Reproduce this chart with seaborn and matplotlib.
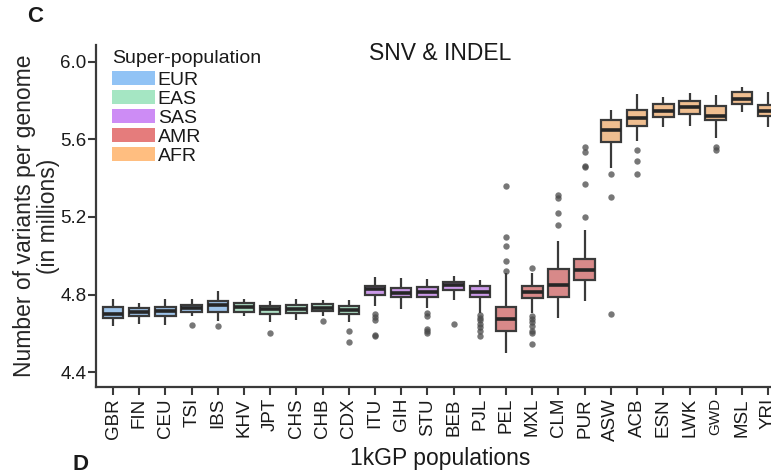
import matplotlib
matplotlib.use("Agg")
import matplotlib.pyplot as plt
from matplotlib.patches import Patch
import seaborn as sns
import pandas as pd

# ---------------- data ----------------
populations = ["GBR", "FIN", "CEU", "TSI", "IBS", "KHV", "JPT", "CHS", "CHB", "CDX",
               "ITU", "GIH", "STU", "BEB", "PJL", "PEL", "MXL", "CLM", "PUR",
               "ASW", "ACB", "ESN", "LWK", "GWD", "MSL", "YRI"]
super_pops = ["EUR"] * 5 + ["EAS"] * 5 + ["SAS"] * 5 + ["AMR"] * 4 + ["AFR"] * 7
super_order = ["EUR", "EAS", "SAS", "AMR", "AFR"]

whisker_low = [4.639, 4.649, 4.641, 4.689, 4.663, 4.689, 4.657, 4.670, 4.689, 4.658,
               4.741, 4.724, 4.732, 4.772, 4.703, 4.500, 4.706, 4.677, 4.768,
               5.451, 5.589, 5.666, 5.671, 5.606, 5.743, 5.663]
quart_1 = [4.682, 4.691, 4.691, 4.711, 4.711, 4.711, 4.701, 4.706, 4.713, 4.699,
           4.799, 4.787, 4.787, 4.823, 4.786, 4.613, 4.782, 4.789, 4.875,
           5.587, 5.671, 5.713, 5.733, 5.701, 5.782, 5.720]
median = [4.701, 4.710, 4.715, 4.730, 4.746, 4.737, 4.724, 4.727, 4.732, 4.720,
          4.828, 4.809, 4.815, 4.849, 4.815, 4.672, 4.813, 4.849, 4.926,
          5.649, 5.709, 5.747, 5.768, 5.721, 5.809, 5.747]
quart_3 = [4.737, 4.730, 4.737, 4.749, 4.765, 4.758, 4.742, 4.749, 4.753, 4.741,
           4.845, 4.834, 4.837, 4.865, 4.843, 4.737, 4.845, 4.933, 4.982,
           5.699, 5.752, 5.782, 5.795, 5.771, 5.845, 5.777]
whisker_high = [4.777, 4.758, 4.775, 4.778, 4.818, 4.775, 4.766, 4.778, 4.770, 4.770,
                4.892, 4.884, 4.880, 4.897, 4.875, 4.913, 4.909, 5.076, 5.133,
                5.752, 5.833, 5.819, 5.840, 5.826, 5.869, 5.844]

outlier_pop = (["TSI", "IBS", "JPT", "CHB", "CDX", "CDX"]
               + ["ITU"] * 5 + ["STU"] * 5 + ["BEB"] + ["PJL"] * 7
               + ["PEL"] * 5 + ["MXL"] * 8 + ["CLM"] * 4 + ["PUR"] * 6
               + ["ASW"] * 3 + ["ACB"] * 3 + ["GWD"] * 2)
outlier_val = ([4.646, 4.637, 4.603, 4.662, 4.612, 4.556]
               + [4.698, 4.686, 4.668, 4.591, 4.588]
               + [4.703, 4.689, 4.625, 4.613, 4.603]
               + [4.649]
               + [4.694, 4.682, 4.668, 4.651, 4.634, 4.613, 4.586]
               + [4.923, 4.973, 5.050, 5.098, 5.362]
               + [4.938, 4.691, 4.674, 4.657, 4.639, 4.613, 4.600, 4.545]
               + [5.159, 5.219, 5.300, 5.312]
               + [5.198, 5.370, 5.457, 5.462, 5.537, 5.560]
               + [5.420, 5.305, 4.698]
               + [5.546, 5.487, 5.420]
               + [5.558, 5.546])

y_ticks = [4.4, 4.8, 5.2, 5.6, 6.0]
y_tick_labels = ["4.4", "4.8", "5.2", "5.6", "6.0"]

colors = {"EUR": "#91C3F5", "EAS": "#A5E6C3", "SAS": "#CD8CF5",
          "AMR": "#E57C7C", "AFR": "#FFBE80"}

# ---------------- tables ----------------
rows = []
for i, p in enumerate(populations):
    for v in (whisker_low[i], quart_1[i], median[i], quart_3[i], whisker_high[i]):
        rows.append({"population": p, "super": super_pops[i], "value": v})
box_df = pd.DataFrame(rows)
out_df = pd.DataFrame({"population": outlier_pop, "value": outlier_val})

# ---------------- figure ----------------
sns.set_theme(style="white")
plt.rcParams["font.family"] = ["Liberation Sans", "DejaVu Sans"]
plt.rcParams["text.color"] = "#1a1a1a"

fig = plt.figure(figsize=(7.71, 4.74), dpi=100)
ax = fig.add_axes([96 / 771, 87 / 474, 1 - 96 / 771, (387 - 45) / 474])

dark = "#3a3a3a"
sns.boxplot(data=box_df, x="population", y="value", hue="super",
            order=populations, hue_order=super_order, palette=colors,
            dodge=False, width=0.78, whis=(0, 100), showcaps=False,
            linewidth=1.6, linecolor=dark, legend=False, ax=ax,
            medianprops={"color": "#262626", "linewidth": 2.6})
sns.stripplot(data=out_df, x="population", y="value", order=populations,
              jitter=False, color="#4a4a4a", alpha=0.75, size=4.6,
              linewidth=0, ax=ax, zorder=1)

ax.set_xlim(-0.65, 25.11)
ax.set_ylim(4.324, 6.086)
ax.set_yticks(y_ticks)
ax.set_yticklabels(y_tick_labels)
ax.set_xticks(range(len(populations)))
ax.set_xticklabels(populations, rotation=90)

for side in ("top", "right"):
    ax.spines[side].set_visible(False)
for side in ("left", "bottom"):
    ax.spines[side].set_color(dark)
    ax.spines[side].set_linewidth(1.6)
ax.tick_params(axis="both", which="both", direction="out", length=6, width=1.5,
               color=dark, left=True, bottom=True)
ax.tick_params(axis="y", labelsize=13.5, pad=1, labelcolor="#1a1a1a")
ax.tick_params(axis="x", labelsize=13.5, pad=2, labelcolor="#1a1a1a")
for lab in ax.get_xticklabels():
    if lab.get_text() == "GWD":
        lab.set_fontsize(11)

ax.set_ylabel("Number of variants per genome\n(in millions)", fontsize=16.5,
              linespacing=1.05, labelpad=0)
ax.set_xlabel("")
fig.text(440 / 771, 1 - 458 / 474, "1kGP populations", fontsize=16.5,
         ha="center", va="center")

fig.text(440 / 771, 1 - 53 / 474, "SNV & INDEL", fontsize=16.5,
         ha="center", va="center")
fig.text(35 / 771, 1 - 17 / 474, "C", fontsize=16, fontweight="bold",
         ha="center", va="center")
fig.text(80 / 771, 1 - 465 / 474, "D", fontsize=16, fontweight="bold",
         ha="center", va="center")

handles = [Patch(facecolor=colors[s], edgecolor="none", label=s) for s in super_order]
leg = fig.legend(handles=handles, title="Super-population", loc="upper left",
                 bbox_to_anchor=(112 / 771, 1 - 50 / 474),
                 bbox_transform=fig.transFigure, frameon=False,
                 fontsize=14, title_fontsize=14, borderpad=0, borderaxespad=0,
                 handlelength=2.2, handleheight=0.7, handletextpad=0.15,
                 labelspacing=0.07)
leg._legend_box.align = "left"
leg._legend_box.sep = 3

fig.savefig("out.png", dpi=100)
